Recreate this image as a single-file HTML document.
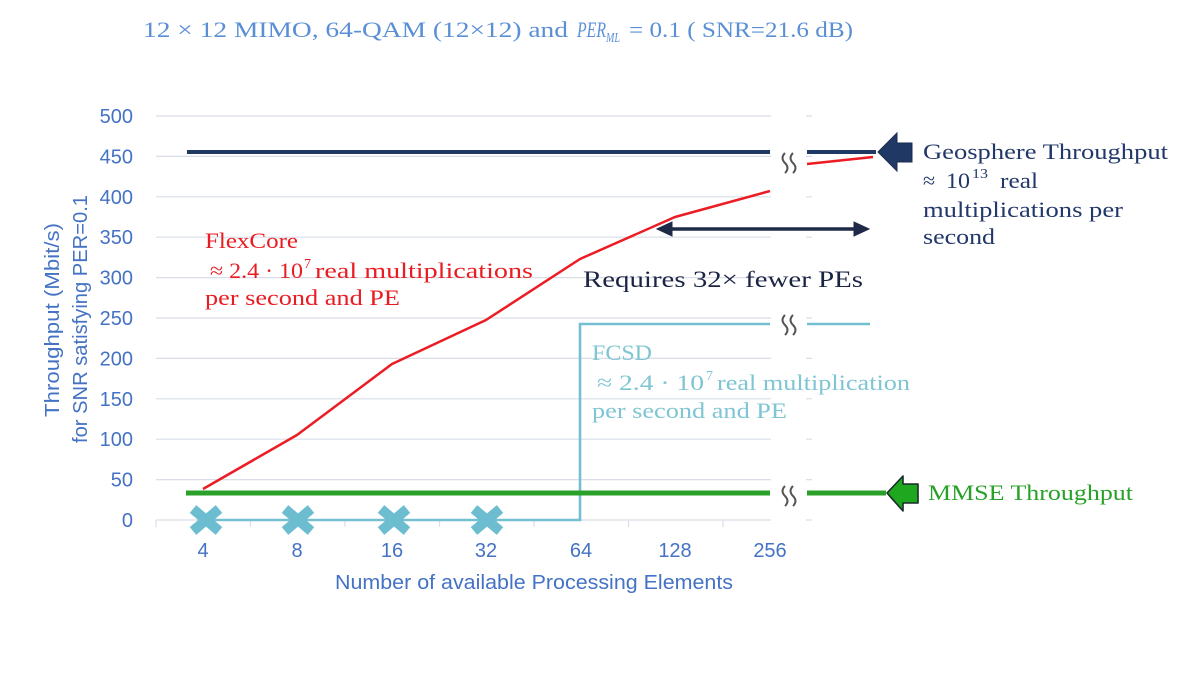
<!DOCTYPE html>
<html>
<head>
<meta charset="utf-8">
<style>
html,body{margin:0;padding:0;background:#fff;}
svg{display:block;}
.sans{font-family:"Liberation Sans",sans-serif;}
.serif{font-family:"Liberation Serif",serif;}
</style>
</head>
<body>
<svg width="1200" height="675" viewBox="0 0 1200 675" xmlns="http://www.w3.org/2000/svg">
  <rect width="1200" height="675" fill="#fff"/>

  <!-- Title -->
  <g class="serif" fill="#5a8fd5" font-size="22">
    <text x="143" y="37" textLength="425" lengthAdjust="spacingAndGlyphs">12 × 12 MIMO, 64-QAM (12×12) and</text>
    <text x="577" y="37" font-style="italic" textLength="29" lengthAdjust="spacingAndGlyphs">PER</text>
    <text x="606" y="42" font-style="italic" font-size="14" textLength="14" lengthAdjust="spacingAndGlyphs">ML</text>
    <text x="629" y="37" textLength="224" lengthAdjust="spacingAndGlyphs">= 0.1 ( SNR=21.6 dB)</text>
  </g>

  <!-- Gridlines -->
  <g stroke="#d9dee8" stroke-width="1.2">
    <line x1="156" y1="116" x2="812" y2="116"/>
    <line x1="156" y1="156.4" x2="812" y2="156.4"/>
    <line x1="156" y1="196.8" x2="812" y2="196.8"/>
    <line x1="156" y1="237.2" x2="812" y2="237.2"/>
    <line x1="156" y1="277.6" x2="812" y2="277.6"/>
    <line x1="156" y1="318" x2="812" y2="318"/>
    <line x1="156" y1="358.4" x2="812" y2="358.4"/>
    <line x1="156" y1="398.8" x2="812" y2="398.8"/>
    <line x1="156" y1="439.2" x2="812" y2="439.2"/>
    <line x1="156" y1="479.6" x2="812" y2="479.6"/>
    <line x1="156" y1="520" x2="812" y2="520"/>
  </g>
  <!-- x ticks -->
  <g stroke="#d9dee8" stroke-width="1.2">
    <line x1="156" y1="520" x2="156" y2="527"/>
    <line x1="250.5" y1="520" x2="250.5" y2="527"/>
    <line x1="345" y1="520" x2="345" y2="527"/>
    <line x1="439.5" y1="520" x2="439.5" y2="527"/>
    <line x1="534" y1="520" x2="534" y2="527"/>
    <line x1="628.5" y1="520" x2="628.5" y2="527"/>
    <line x1="723" y1="520" x2="723" y2="527"/>
  </g>

  <!-- Y labels -->
  <g class="sans" fill="#4472c4" font-size="20" text-anchor="end">
    <text x="133" y="123">500</text>
    <text x="133" y="163.4">450</text>
    <text x="133" y="203.8">400</text>
    <text x="133" y="244.2">350</text>
    <text x="133" y="284.6">300</text>
    <text x="133" y="325">250</text>
    <text x="133" y="365.4">200</text>
    <text x="133" y="405.8">150</text>
    <text x="133" y="446.2">100</text>
    <text x="133" y="486.6">50</text>
    <text x="133" y="527">0</text>
  </g>

  <!-- Y title -->
  <g class="sans" fill="#4472c4" font-size="20" text-anchor="middle">
    <text transform="translate(59,320) rotate(-90)" textLength="194" lengthAdjust="spacingAndGlyphs">Throughput (Mbit/s)</text>
    <text transform="translate(87,319) rotate(-90)" textLength="248" lengthAdjust="spacingAndGlyphs">for SNR satisfying PER=0.1</text>
  </g>

  <!-- X labels -->
  <g class="sans" fill="#4472c4" font-size="20" text-anchor="middle">
    <text x="203" y="557">4</text>
    <text x="297" y="557">8</text>
    <text x="392" y="557">16</text>
    <text x="486" y="557">32</text>
    <text x="581" y="557">64</text>
    <text x="675" y="557">128</text>
    <text x="770" y="557">256</text>
    <text x="534" y="589" textLength="398" lengthAdjust="spacingAndGlyphs">Number of available Processing Elements</text>
  </g>

  <!-- FCSD line -->
  <g fill="none" stroke="#75c0d0" stroke-width="2.6">
    <path d="M203,520 H580 V324 H770"/>
    <path d="M807,324 H870"/>
  </g>

  <!-- MMSE green line -->
  <g fill="none" stroke="#2a9f2a" stroke-width="5">
    <path d="M186,493 H770"/>
    <path d="M807,493 H886"/>
  </g>

  <!-- Geosphere line -->
  <g fill="none" stroke="#1f3864" stroke-width="4">
    <path d="M187,152 H770"/>
    <path d="M807,152 H876"/>
  </g>

  <!-- FlexCore red line -->
  <g fill="none" stroke="#ec1c24" stroke-width="2.5" stroke-linejoin="round">
    <polyline points="203,489 297,435 392,364 486,320 580,259 675,217 770,191"/>
    <polyline points="807,164 873,157"/>
  </g>

  <!-- X markers -->
  <g stroke="#6dbdd0" stroke-width="10">
    <g transform="translate(206,520)"><line x1="-13" y1="-11" x2="13" y2="11"/><line x1="-13" y1="11" x2="13" y2="-11"/></g>
    <g transform="translate(298,520)"><line x1="-13" y1="-11" x2="13" y2="11"/><line x1="-13" y1="11" x2="13" y2="-11"/></g>
    <g transform="translate(394,520)"><line x1="-13" y1="-11" x2="13" y2="11"/><line x1="-13" y1="11" x2="13" y2="-11"/></g>
    <g transform="translate(487,520)"><line x1="-13" y1="-11" x2="13" y2="11"/><line x1="-13" y1="11" x2="13" y2="-11"/></g>
  </g>

  <!-- Break box -->
  <rect x="771" y="108" width="35" height="424" fill="#fff"/>

  <!-- Break squiggles -->
  <g fill="none" stroke="#555" stroke-width="2">
    <g transform="translate(785,163)"><path d="M0,-10 Q-5,-5 0,0 T0,10"/><path d="M8,-10 Q3,-5 8,0 T8,10"/></g>
    <g transform="translate(785,325)"><path d="M0,-10 Q-5,-5 0,0 T0,10"/><path d="M8,-10 Q3,-5 8,0 T8,10"/></g>
    <g transform="translate(785,496)"><path d="M0,-10 Q-5,-5 0,0 T0,10"/><path d="M8,-10 Q3,-5 8,0 T8,10"/></g>
  </g>

  <!-- Double arrow -->
  <g fill="#1f2a48" stroke="#1f2a48">
    <line x1="668" y1="229" x2="858" y2="229" stroke-width="3.5"/>
    <polygon points="657,229 672,222 672,236" stroke-width="1"/>
    <polygon points="869,229 854,222 854,236" stroke-width="1"/>
  </g>

  <!-- Blue block arrow -->
  <polygon points="878,152 897,133 897,143 912,143 912,162 897,162 897,171" fill="#203864" stroke="#1a2d52" stroke-width="1"/>

  <!-- Green block arrow -->
  <polygon points="887,493 903,476 903,484 918,484 918,503 903,503 903,511" fill="#1fa81f" stroke="#1b2b2b" stroke-width="1.6" stroke-linejoin="round"/>

  <!-- FlexCore annotation -->
  <g class="serif" fill="#e81c22" font-size="22">
    <text x="205" y="248" textLength="93" lengthAdjust="spacingAndGlyphs">FlexCore</text>
    <text x="210" y="278" textLength="93" lengthAdjust="spacingAndGlyphs">≈ 2.4 · 10</text>
    <text x="304" y="268" font-size="14">7</text>
    <text x="315" y="278" textLength="218" lengthAdjust="spacingAndGlyphs">real multiplications</text>
    <text x="205" y="305" textLength="195" lengthAdjust="spacingAndGlyphs">per second and PE</text>
  </g>

  <!-- FCSD annotation -->
  <g class="serif" fill="#7fc5d3" font-size="22">
    <text x="592" y="360" textLength="60" lengthAdjust="spacingAndGlyphs">FCSD</text>
    <text x="597" y="390" textLength="107" lengthAdjust="spacingAndGlyphs">≈ 2.4 · 10</text>
    <text x="706" y="380" font-size="14">7</text>
    <text x="717" y="390" textLength="193" lengthAdjust="spacingAndGlyphs">real multiplication</text>
    <text x="592" y="418" textLength="195" lengthAdjust="spacingAndGlyphs">per second and PE</text>
  </g>

  <!-- Requires text -->
  <text class="serif" x="583" y="287" fill="#1b2444" font-size="23" textLength="280" lengthAdjust="spacingAndGlyphs">Requires 32× fewer PEs</text>

  <!-- Geosphere annotation -->
  <g class="serif" fill="#22376a" font-size="22">
    <text x="923" y="159" textLength="245" lengthAdjust="spacingAndGlyphs">Geosphere Throughput</text>
    <text x="923" y="188">≈</text>
    <text x="946" y="188" textLength="24" lengthAdjust="spacingAndGlyphs">10</text>
    <text x="972" y="178" font-size="14" textLength="16" lengthAdjust="spacingAndGlyphs">13</text>
    <text x="1000" y="188" textLength="38" lengthAdjust="spacingAndGlyphs">real</text>
    <text x="923" y="217" textLength="200" lengthAdjust="spacingAndGlyphs">multiplications per</text>
    <text x="923" y="244" textLength="72" lengthAdjust="spacingAndGlyphs">second</text>
  </g>

  <!-- MMSE annotation -->
  <text class="serif" x="928" y="500" fill="#27a127" font-size="22" textLength="205" lengthAdjust="spacingAndGlyphs">MMSE Throughput</text>
</svg>
</body>
</html>
